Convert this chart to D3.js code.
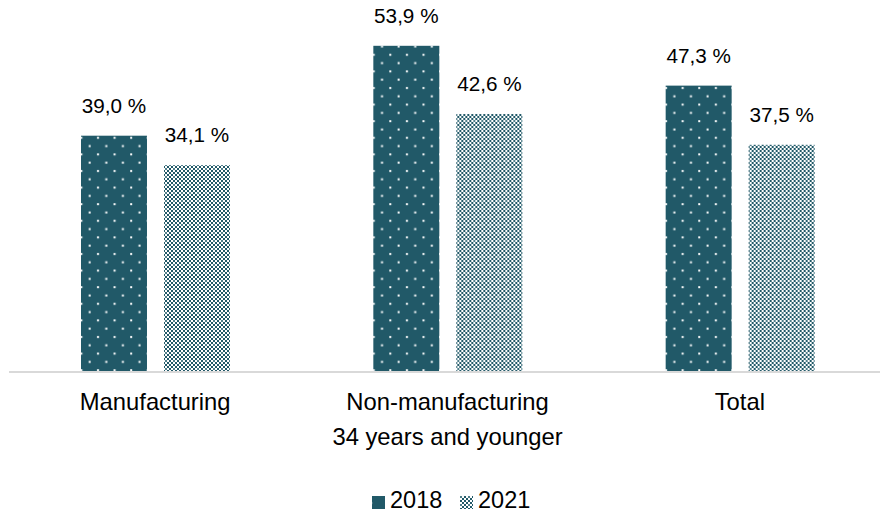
<!DOCTYPE html>
<html>
<head>
<meta charset="utf-8">
<script src="https://cdn.jsdelivr.net/npm/d3@7"></script>
<style>
  body { margin: 0; background: #fff; }
  text { font-family: "Liberation Sans", Arial, sans-serif; fill: #000; }
</style>
</head>
<body>
<div id="chart"></div>
<script>
var categories = ["Manufacturing", "Non-manufacturing", "Total"];
var seriesNames = ["2018", "2021"];
var values2018 = [39.0, 53.9, 47.3];
var values2021 = [34.1, 42.6, 37.5];
var axisTitle = "34 years and younger";

var width = 881, height = 513;
var color = "#215968";

var svg = d3.select("#chart").append("svg")
    .attr("width", width)
    .attr("height", height);

var defs = svg.append("defs");

// dotted pattern for 2018
var p1 = defs.append("pattern")
    .attr("id", "dots")
    .attr("patternUnits", "userSpaceOnUse")
    .attr("width", 16.6).attr("height", 16.6);
p1.append("rect").attr("width", 16.6).attr("height", 16.6).attr("fill", color);
p1.append("rect").attr("x", 5).attr("y", 4).attr("width", 2).attr("height", 2).attr("fill", "#fff");
p1.append("rect").attr("x", 13.3).attr("y", 12.3).attr("width", 2).attr("height", 2).attr("fill", "#fff");

// checker pattern for 2021
var p2 = defs.append("pattern")
    .attr("id", "checks")
    .attr("patternUnits", "userSpaceOnUse")
    .attr("width", 8).attr("height", 8);
p2.append("rect").attr("width", 8).attr("height", 8).attr("fill", "#fff");
[[0,0],[4,0],[2,2],[6,2],[0,4],[4,4],[2,6],[6,6]].forEach(function (c) {
    p2.append("rect").attr("x", c[0]).attr("y", c[1]).attr("width", 2).attr("height", 2).attr("fill", color);
});
p2.append("rect").attr("x", 4).attr("y", 0).attr("width", 2).attr("height", 2).attr("fill", "#4f7e89");

var x = d3.scaleBand().domain(categories).range([9, 886]);
var xi = d3.scaleBand().domain(seriesNames).range([72, 221]).paddingInner(0.205);
var y = d3.scaleLinear().domain([0, 60]).range([371, 9]);

var data = categories.map(function (c, i) {
    return { cat: c, vals: [
        { s: "2018", v: values2018[i] },
        { s: "2021", v: values2021[i] }
    ] };
});

var g = svg.selectAll("g.grp").data(data).enter().append("g")
    .attr("class", "grp")
    .attr("transform", function (d) { return "translate(" + x(d.cat) + ",0)"; });

g.selectAll("rect").data(function (d) { return d.vals; }).enter().append("rect")
    .attr("x", function (d) { return xi(d.s); })
    .attr("width", xi.bandwidth())
    .attr("y", function (d) { return y(d.v); })
    .attr("height", function (d) { return y(0) - y(d.v); })
    .attr("fill", function (d) { return d.s === "2018" ? "url(#dots)" : "url(#checks)"; });

g.selectAll("text.val").data(function (d) { return d.vals; }).enter().append("text")
    .attr("class", "val")
    .attr("x", function (d) { return xi(d.s) + xi.bandwidth() / 2; })
    .attr("y", function (d) { return y(d.v) - 23; })
    .attr("text-anchor", "middle")
    .style("font-size", "20.7px")
    .text(function (d) { return d3.format(".1f")(d.v).replace(".", ",") + " %"; });

// axis
svg.append("line")
    .attr("x1", 9).attr("x2", 880)
    .attr("y1", y(0) + 1).attr("y2", y(0) + 1)
    .attr("stroke", "#d9d9d9").attr("stroke-width", 2);

svg.selectAll("text.cat").data(categories).enter().append("text")
    .attr("class", "cat")
    .attr("x", function (d) { return x(d) + x.bandwidth() / 2; })
    .attr("y", 410)
    .attr("text-anchor", "middle")
    .style("font-size", "23.8px")
    .text(function (d) { return d; });

svg.append("text")
    .attr("x", (x.range()[0] + x.range()[1]) / 2)
    .attr("y", 445)
    .attr("text-anchor", "middle")
    .style("font-size", "23.8px")
    .text(axisTitle);

// legend
var lx = [372, 460];
seriesNames.forEach(function (s, i) {
    svg.append("rect")
        .attr("x", lx[i]).attr("y", 496)
        .attr("width", 13).attr("height", 13)
        .attr("fill", i === 0 ? "url(#dots)" : "url(#checks)");
    svg.append("text")
        .attr("x", lx[i] + 18).attr("y", 508)
        .style("font-size", "23.5px")
        .text(s);
});
</script>
</body>
</html>
